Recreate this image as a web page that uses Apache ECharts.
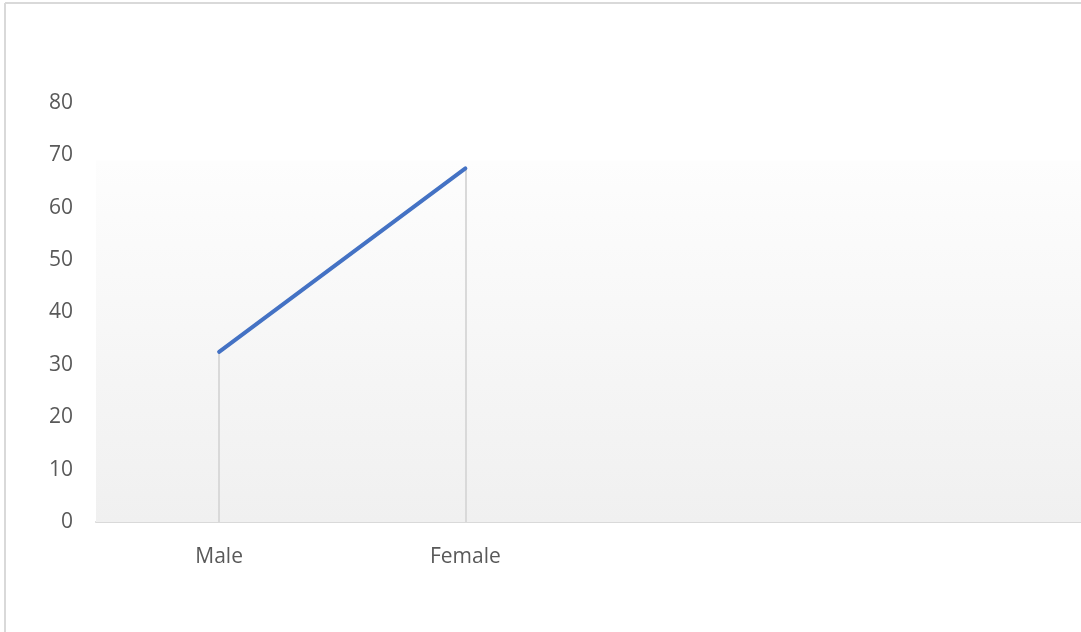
<!DOCTYPE html>
<html><head><meta charset="utf-8">
<script src="https://cdn.jsdelivr.net/npm/echarts@6/dist/echarts.min.js"></script>
<style>html,body{margin:0;padding:0;background:#fff}#c{width:1081px;height:632px}</style>
</head><body><div id="c"></div>
<script>
const categories = ['Male', 'Female', '', ''];
const values = [32.5, 67.5, null, null];
const yTicks = [0, 10, 20, 30, 40, 50, 60, 70, 80];
const bgTop = 69;

const chart = echarts.init(document.getElementById('c'), null, {renderer: 'canvas'});
const dropLines = [];
values.forEach((v, i) => { if (v != null) dropLines.push([{coord: [i, 0]}, {coord: [i, v]}]); });

chart.setOption({
  animation: false,
  backgroundColor: '#fff',
  grid: {left: 96, right: 0, top: 103, bottom: 110, containLabel: false},
  xAxis: {
    type: 'category', data: categories, boundaryGap: true,
    axisLine: {lineStyle: {color: '#d9d9d9', width: 2}},
    axisTick: {show: false},
    axisLabel: {color: '#595959', fontSize: 21, fontFamily: 'Open Sans', margin: 25}
  },
  yAxis: {
    type: 'value', min: 0, max: 80, interval: 10,
    axisLine: {show: false}, axisTick: {show: false}, splitLine: {show: false},
    axisLabel: {color: '#595959', fontSize: 21, fontFamily: 'Open Sans', margin: 23}
  },
  graphic: [
    {type: 'line', shape: {x1: 5, y1: 3, x2: 1081, y2: 3}, style: {stroke: '#d9d9d9', lineWidth: 2}},
    {type: 'line', shape: {x1: 5, y1: 3, x2: 5, y2: 632}, style: {stroke: '#d9d9d9', lineWidth: 2}}
  ],
  series: [{
    type: 'line', data: values, showSymbol: false, symbol: 'none',
    lineStyle: {color: '#4472c4', width: 4, cap: 'round'},
    z: 5,
    markArea: {
      silent: true,
      itemStyle: {color: {type: 'linear', x: 0, y: 0, x2: 0, y2: 1,
        colorStops: [{offset: 0, color: '#fdfdfd'}, {offset: 1, color: '#f0f0f0'}]}},
      data: [[{yAxis: bgTop, x: 96}, {yAxis: 0, x: 1081}]]
    },
    markLine: {
      silent: true, symbol: 'none', label: {show: false},
      lineStyle: {color: '#d9d9d9', width: 2, type: 'solid'},
      data: dropLines
    }
  }]
});
</script></body></html>
